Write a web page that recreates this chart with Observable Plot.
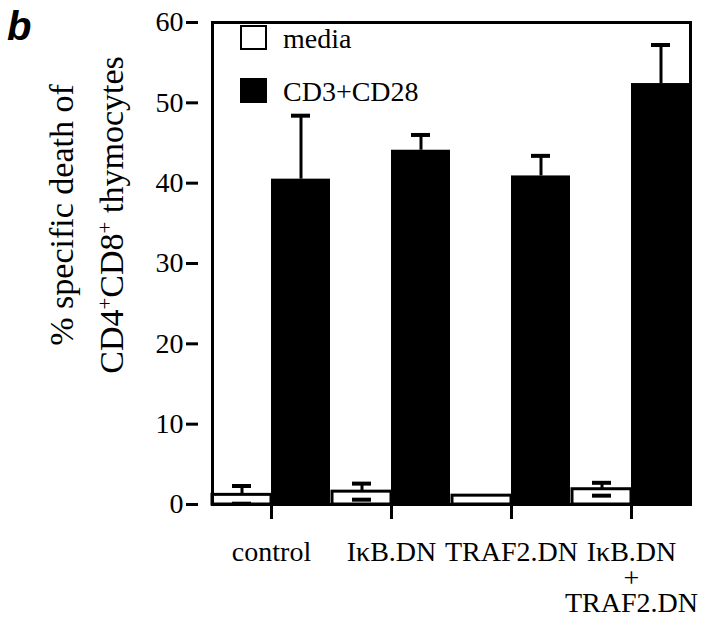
<!DOCTYPE html>
<html><head><meta charset="utf-8">
<script src="https://cdn.jsdelivr.net/npm/d3@7"></script>
<script src="https://cdn.jsdelivr.net/npm/@observablehq/plot@0.6"></script>
<style>
body{margin:0;background:#fff;}
#wrap{position:relative;width:720px;height:618px;overflow:hidden;font-family:"Liberation Serif","Times New Roman",serif;color:#000;}
#wrap svg{position:absolute;left:0;top:0;font-family:"Liberation Serif","Times New Roman",serif;}
#panel{position:absolute;left:7px;top:4px;font-family:"Liberation Sans",Arial,sans-serif;font-style:italic;font-weight:bold;font-size:40px;line-height:44px;}
#ytitle{position:absolute;left:87px;top:215px;width:420px;transform:translate(-50%,-50%) rotate(-90deg);text-align:center;font-family:"Liberation Serif","Times New Roman",serif;font-size:34px;line-height:50px;white-space:nowrap;}
#ytitle sup{font-size:0.62em;line-height:0;vertical-align:0.5em;}
.sw{position:absolute;left:240px;width:23px;height:21px;border:2px solid #000;}
.lt{position:absolute;left:283px;font-family:"Liberation Serif","Times New Roman",serif;font-size:28px;line-height:28px;white-space:nowrap;}
</style></head>
<body>
<div id="wrap"></div>
<script>
const groups = ["control", "IκB.DN", "TRAF2.DN", "IκB.DN + TRAF2.DN"];
const groupLabels = ["control", "IκB.DN", "TRAF2.DN", "IκB.DN\n+\nTRAF2.DN"];
const series = ["media", "CD3+CD28"];
const seriesColors = ["white", "black"];
const mediaValues = [1.2, 1.6, 1.1, 1.9];
const mediaErrors = [1.1, 1.0, 0, 0.8];
const cd3Values = [40.5, 44.1, 40.9, 52.4];
const cd3Errors = [7.9, 1.9, 2.5, 4.8];
const yTicks = [0, 10, 20, 30, 40, 50, 60];

const serif = '"Liberation Serif", "Times New Roman", serif';
const rows = groups.flatMap((g, i) => [
  {group: g, series: series[0], value: mediaValues[i], err: mediaErrors[i]},
  {group: g, series: series[1], value: cd3Values[i], err: cd3Errors[i]}
]);
const isMedia = d => d.series === series[0];
const withErr = rows.filter(d => d.err > 0);

const chart = Plot.plot({
  width: 720, height: 618,
  marginLeft: 195, marginRight: 30, marginTop: 22, marginBottom: 114,
  style: {fontFamily: serif, fontSize: "28px", color: "black", background: "white"},
  fx: {domain: groups, paddingInner: 0.02, paddingOuter: 0.058, align: 1, axis: null, label: null},
  x: {domain: series, padding: 0, axis: null},
  y: {domain: [0, 60], axis: null},
  color: {domain: series, range: seriesColors},
  marks: [
    Plot.barY(rows.filter(d => !isMedia(d)), {fx: "group", x: "series", y: "value", fill: "series"}),
    Plot.barY(rows.filter(isMedia), {fx: "group", x: "series", y: "value", fill: "series", stroke: "black", strokeWidth: 3}),
    Plot.ruleX(withErr, {fx: "group", x: "series", y1: "value", y2: d => d.value + d.err, stroke: "black", strokeWidth: 3}),
    Plot.tickY(withErr, {fx: "group", x: "series", y: d => d.value + d.err, stroke: "black", strokeWidth: 4, insetLeft: 20, insetRight: 20}),
    Plot.tickY(withErr.filter(isMedia), {fx: "group", x: "series", y: d => d.value - d.err, stroke: "black", strokeWidth: 4, insetLeft: 20, insetRight: 20}),
    Plot.frame({facet: "super", stroke: "black", strokeWidth: 3}),
    Plot.axisY({ticks: yTicks, tickSize: 12, tickPadding: 3, strokeWidth: 3, fontSize: 28, fontFamily: serif, label: null, dx: -14}),
    Plot.axisFx({anchor: "bottom", tickSize: 15, tickPadding: 24, strokeWidth: 3, fontSize: 28, fontFamily: serif, lineHeight: 0.9,
      tickFormat: g => groupLabels[groups.indexOf(g)], label: null})
  ]
});

const wrap = document.getElementById("wrap");
wrap.appendChild(chart);

const panel = document.createElement("div");
panel.id = "panel"; panel.textContent = "b";
wrap.appendChild(panel);

const yt = document.createElement("div");
yt.id = "ytitle";
yt.innerHTML = "% specific death of<br>CD4<sup>+</sup>CD8<sup>+</sup> thymocytes";
wrap.appendChild(yt);

series.forEach((s, i) => {
  const sw = document.createElement("div");
  sw.className = "sw";
  sw.style.top = (25 + i * 53) + "px";
  sw.style.background = seriesColors[i];
  wrap.appendChild(sw);
  const t = document.createElement("div");
  t.className = "lt";
  t.style.top = (25 + i * 53) + "px";
  t.textContent = s;
  wrap.appendChild(t);
});
</script>
</body></html>
